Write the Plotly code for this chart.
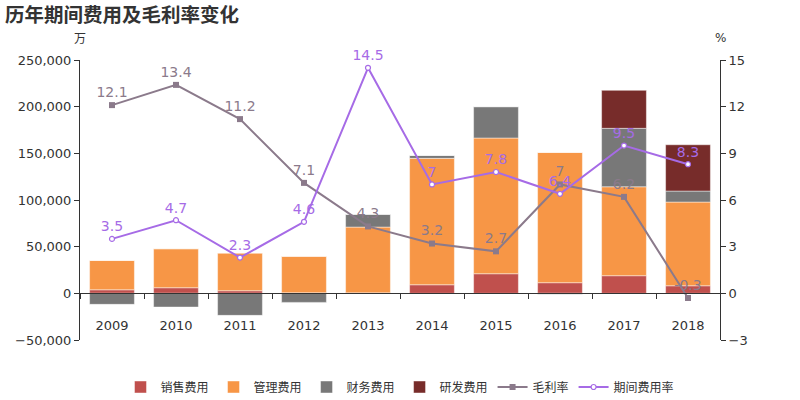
import plotly.graph_objects as go

years = ["2009", "2010", "2011", "2012", "2013", "2014", "2015", "2016", "2017", "2018"]
sales_exp = [3800, 6000, 2800, 500, 500, 9200, 21000, 11400, 18900, 8100]
admin_exp = [31500, 41800, 40400, 39100, 70500, 135400, 145400, 139600, 95300, 89700]
fin_exp = [-11800, -14700, -23600, -9700, 13600, 3200, 33600, -1100, 62600, 11800]
rd_exp = [0, 0, 0, 0, 0, 0, 0, 0, 40700, 49600]
gross_margin = [12.1, 13.4, 11.2, 7.1, 4.3, 3.2, 2.7, 7, 6.2, -0.3]
period_rate = [3.5, 4.7, 2.3, 4.6, 14.5, 7, 7.8, 6.4, 9.5, 8.3]

FONT = "DejaVu Sans, Noto Sans CJK SC"
CJK = "Noto Sans CJK SC, DejaVu Sans"
edge = dict(color="rgba(255,255,255,0.45)", width=1)

fig = go.Figure()
for name, vals, col in [("销售费用", sales_exp, "#C0504D"),
                        ("管理费用", admin_exp, "#F79646"),
                        ("财务费用", fin_exp, "#787878"),
                        ("研发费用", rd_exp, "#772C2A")]:
    fig.add_trace(go.Bar(x=years, y=vals, name=name, marker=dict(color=col, line=edge),
                         width=0.7))

fig.add_trace(go.Scatter(x=years, y=gross_margin, name="毛利率", yaxis="y2",
                         mode="lines+markers+text", text=[str(v) for v in gross_margin],
                         textposition="top center", cliponaxis=False,
                         textfont=dict(color="#8B7A8B", size=14, family=FONT),
                         line=dict(color="#8B7A8B", width=2),
                         marker=dict(symbol="square", size=6, color="#8B7A8B")))
fig.add_trace(go.Scatter(x=years, y=period_rate, name="期间费用率", yaxis="y2",
                         mode="lines+markers+text", text=[str(v) for v in period_rate],
                         textposition="top center", cliponaxis=False,
                         textfont=dict(color="#A66BE6", size=14, family=FONT),
                         line=dict(color="#A66BE6", width=2),
                         marker=dict(symbol="circle", size=5, color="white",
                                     line=dict(color="#A66BE6", width=1.2))))

fig.update_layout(
    width=800, height=400,
    margin=dict(l=80, r=80, t=60, b=60, autoexpand=False),
    paper_bgcolor="white", plot_bgcolor="white",
    barmode="relative", bargap=0.3,
    font=dict(family=FONT, size=12, color="#333333"),
    title=dict(text="<b>历年期间费用及毛利率变化</b>", x=0.0, xanchor="left",
               xref="container", yref="container", pad=dict(l=5, t=0, b=0, r=0),
               y=0.962, yanchor="middle", font=dict(family=CJK, size=19.5, color="#333333")),
    xaxis=dict(type="category", range=[-0.5, 9.5], anchor="free", position=1/6,
               showline=True, linecolor="#333333", linewidth=1, ticks="outside", ticklen=5,
               tickcolor="#333333", tickson="boundaries", ticklabelstandoff=20,
               showgrid=False, zeroline=False, tickfont=dict(size=13), automargin=False),
    yaxis=dict(range=[-50000, 250000], dtick=50000, tickformat=",d", showgrid=False,
               zeroline=False, showline=True, linecolor="#333333", ticks="outside",
               ticklen=5, tickcolor="#333333", tickfont=dict(size=13), automargin=False),
    yaxis2=dict(range=[-3, 15], dtick=3, overlaying="y", side="right", showgrid=False,
                zeroline=False, showline=True, linecolor="#333333", ticks="outside",
                ticklen=5, tickcolor="#333333", tickfont=dict(size=13), automargin=False),
    legend=dict(orientation="h", x=0.5, xanchor="center", xref="container",
                yref="container", y=0.0325, yanchor="middle",
                font=dict(family=CJK, size=12, color="#333333"), itemwidth=30,
                traceorder="normal"),
    annotations=[
        dict(text="万", xref="paper", yref="paper", x=0, y=1.08, xanchor="center",
             yanchor="middle", showarrow=False, font=dict(family=CJK, size=12, color="#333333")),
        dict(text="%", xref="paper", yref="paper", x=1, y=1.08, xanchor="center",
             yanchor="middle", showarrow=False, font=dict(family=FONT, size=12, color="#333333")),
    ],
)

fig.write_html("out.html", config={"displayModeBar": False},
               post_script="document.body.style.margin='0';")
